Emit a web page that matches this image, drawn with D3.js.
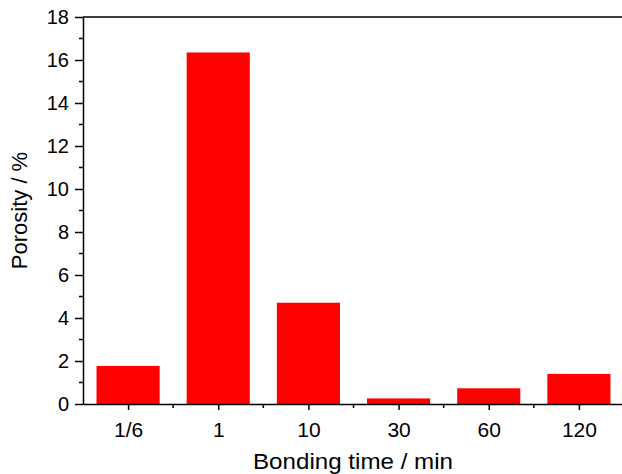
<!DOCTYPE html>
<meta charset="utf-8">
<style>
body { margin: 0; background: #fff; }
text { font-family: "Liberation Sans", Arial, sans-serif; fill: #000; }
.axis path, .axis line { stroke: #000; stroke-width: 1.5px; }
</style>
<body>
<svg width="622" height="474"></svg>
<script src="https://d3js.org/d3.v7.min.js"></script>
<script>

var categories = ["1/6", "1", "10", "30", "60", "120"];
var porosity = [1.77, 16.35, 4.71, 0.26, 0.73, 1.40];
var yTicks = [0, 2, 4, 6, 8, 10, 12, 14, 16, 18];
var yMinor = [1, 3, 5, 7, 9, 11, 13, 15, 17];

var svg = d3.select("svg"),
    pLeft = 83, pRight = 624, pTop = 17, pBottom = 404;

var x = d3.scaleBand().domain(categories).range([pLeft, pRight]).paddingInner(0.3).paddingOuter(0.15);
var xc = d3.scalePoint().domain(categories).range([pLeft, pRight]).padding(0.5);
var y = d3.scaleLinear().domain([0, 18]).range([pBottom, pTop]);

// bars
svg.selectAll(".bar")
  .data(porosity)
  .enter().append("rect")
    .attr("class", "bar")
    .attr("x", (d, i) => x(categories[i]))
    .attr("width", x.bandwidth())
    .attr("y", d => y(d))
    .attr("height", d => y(0) - y(d))
    .attr("fill", "#ff0000");

// top frame line
svg.append("line")
    .attr("x1", pLeft).attr("x2", pRight)
    .attr("y1", pTop).attr("y2", pTop)
    .attr("stroke", "#000").attr("stroke-width", 1.5);

// y axis
var gy = svg.append("g").attr("class", "axis")
    .attr("transform", `translate(${pLeft},0)`)
    .call(d3.axisLeft(y).tickValues(yTicks).tickSize(8).tickSizeOuter(0).tickPadding(6));
gy.selectAll("text").style("font-size", "20px");
gy.selectAll(".minor")
  .data(yMinor)
  .enter().append("line")
    .attr("class", "minor")
    .attr("x1", -4).attr("x2", 0)
    .attr("y1", d => y(d)).attr("y2", d => y(d));

// x axis
var gx = svg.append("g").attr("class", "axis")
    .attr("transform", `translate(0,${pBottom})`)
    .call(d3.axisBottom(xc).tickSize(6).tickSizeOuter(0).tickPadding(12));
gx.selectAll("text").style("font-size", "21px");
var steps = xc.step();
gx.selectAll(".minor")
  .data(categories.slice(1))
  .enter().append("line")
    .attr("class", "minor")
    .attr("x1", d => xc(d) - steps / 2).attr("x2", d => xc(d) - steps / 2)
    .attr("y1", 0).attr("y2", 4);

// axis titles
svg.append("text")
    .attr("x", 353)
    .attr("y", 469)
    .attr("text-anchor", "middle")
    .attr("textLength", 200)
    .attr("lengthAdjust", "spacingAndGlyphs")
    .style("font-size", "22.5px")
    .text("Bonding time / min");

svg.append("text")
    .attr("transform", `translate(27,${(pTop + pBottom) / 2}) rotate(-90)`)
    .attr("text-anchor", "middle")
    .style("font-size", "22px")
    .text("Porosity / %");

</script>
</body>
